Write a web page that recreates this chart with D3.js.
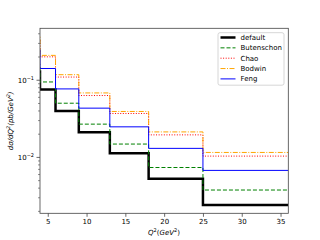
<!DOCTYPE html>
<html>
<head>
<meta charset="utf-8">
<script src="https://cdn.jsdelivr.net/npm/d3@7"></script>
<style>
body { margin: 0; background: #fff; }
svg { font-family: "DejaVu Sans", sans-serif; }
</style>
</head>
<body>
<svg width="320" height="240"></svg>
<script>
// bin edges in Q^2 (first bin lies left of the visible range)
var edges = [2, 4, 6, 9, 13, 18, 25, 36];
var seriesNames = ['default', 'Butenschon', 'Chao', 'Bodwin', 'Feng'];
var defaultVals = [0.13, 0.0758, 0.040, 0.0212, 0.0113, 0.0053, 0.00242];
var butenschonVals = [0.16, 0.095, 0.0504, 0.027, 0.0149, 0.0074, 0.00378];
var chaoVals = [0.33, 0.201, 0.110, 0.0634, 0.0371, 0.0196, 0.0104];
var bodwinVals = [0.366, 0.21, 0.118, 0.0685, 0.0394, 0.0214, 0.0116];
var fengVals = [0.25, 0.142, 0.0772, 0.0435, 0.0249, 0.0131, 0.00679];
var xTicks = [5, 10, 15, 20, 25, 30, 35];

var styles = [
	{ color: '#000000', width: 2.5, dash: null },
	{ color: '#008000', width: 1, dash: '4,2' },
	{ color: '#ff0000', width: 1, dash: '1,1.6' },
	{ color: '#ffa500', width: 1, dash: '5,1.5,1,1.5' },
	{ color: '#0000ff', width: 1, dash: null }
];
var allVals = [defaultVals, butenschonVals, chaoVals, bodwinVals, fengVals];

var pLeft = 40, pRight = 288.3, pTop = 28.3, pBottom = 213.3;
var x = d3.scaleLinear().domain([4, 36]).range([pLeft, pRight]);
var y = d3.scaleLog().domain([Math.pow(10, -2.724), Math.pow(10, -0.327)]).range([pBottom, pTop]);

var svg = d3.select('svg');
svg.append('defs').append('clipPath').attr('id', 'clip')
	.append('rect').attr('x', pLeft).attr('y', pTop)
	.attr('width', pRight - pLeft).attr('height', pBottom - pTop);

var g = svg.append('g').attr('clip-path', 'url(#clip)');

// step lines
allVals.forEach(function (vals, i) {
	var p = 'M' + x(edges[0]) + ',' + y(vals[0]);
	for (var k = 0; k < vals.length; k++) {
		if (k > 0) p += 'V' + y(vals[k]);
		p += 'H' + x(edges[k + 1]);
	}
	g.append('path')
		.attr('d', p)
		.attr('fill', 'none')
		.attr('stroke', styles[i].color)
		.attr('stroke-width', styles[i].width)
		.attr('stroke-dasharray', styles[i].dash);
});

// frame
svg.append('rect')
	.attr('x', pLeft).attr('y', pTop)
	.attr('width', pRight - pLeft).attr('height', pBottom - pTop)
	.attr('fill', 'none').attr('stroke', '#444').attr('stroke-width', 0.8);

// x axis
var xAxis = svg.append('g').attr('transform', 'translate(0,' + pBottom + ')')
	.call(d3.axisBottom(x).tickValues(xTicks).tickSize(3.5).tickPadding(2));
xAxis.select('.domain').remove();
xAxis.selectAll('text').attr('font-size', 7).attr('fill', '#000').attr('font-family', '"DejaVu Sans", sans-serif');
xAxis.selectAll('line').attr('stroke', '#444').attr('stroke-width', 0.8);

// y axis: major + minor ticks
var minor = [];
[-3, -2, -1].forEach(function (e) {
	for (var m = 2; m <= 9; m++) {
		var v = m * Math.pow(10, e);
		if (v >= y.domain()[0] && v <= y.domain()[1]) minor.push(v);
	}
});
var yAxis = svg.append('g').attr('transform', 'translate(' + pLeft + ',0)');
yAxis.selectAll('line.minor').data(minor).enter().append('line')
	.attr('x1', -2).attr('x2', 0)
	.attr('y1', function (d) { return y(d); }).attr('y2', function (d) { return y(d); })
	.attr('stroke', '#444').attr('stroke-width', 0.6);
var majors = [-1, -2];
yAxis.selectAll('line.major').data(majors).enter().append('line')
	.attr('x1', -3.5).attr('x2', 0)
	.attr('y1', function (d) { return y(Math.pow(10, d)); })
	.attr('y2', function (d) { return y(Math.pow(10, d)); })
	.attr('stroke', '#444').attr('stroke-width', 0.8);
var lab = yAxis.selectAll('text.major').data(majors).enter().append('text')
	.attr('x', -6).attr('y', function (d) { return y(Math.pow(10, d)) + 2.5; })
	.attr('text-anchor', 'end').attr('font-size', 7);
lab.append('tspan').text('10');
lab.append('tspan').attr('dy', -3).attr('font-size', 5).text(function (d) { return '\u2212' + (-d); });

// axis labels
var xl = svg.append('text').attr('x', 164).attr('y', 235)
	.attr('text-anchor', 'middle').attr('font-size', 7);
xl.append('tspan').attr('font-style', 'italic').text('Q');
xl.append('tspan').attr('dy', -3).attr('font-size', 5).text('2');
xl.append('tspan').attr('dy', 3).text('(');
xl.append('tspan').attr('font-style', 'italic').text('GeV');
xl.append('tspan').attr('dy', -3).attr('font-size', 5).text('2');
xl.append('tspan').attr('dy', 3).text(')');

var yl = svg.append('text')
	.attr('transform', 'translate(13,' + ((pTop + pBottom) / 2) + ') rotate(-90)')
	.attr('text-anchor', 'middle').attr('font-size', 7).attr('font-style', 'italic');
yl.append('tspan').text('d\u03c3/dQ');
yl.append('tspan').attr('dy', -3).attr('font-size', 5).text('2');
yl.append('tspan').attr('dy', 3).text('(pb/GeV');
yl.append('tspan').attr('dy', -3).attr('font-size', 5).text('2');
yl.append('tspan').attr('dy', 3).text(')');

// legend
var leg = svg.append('g');
leg.append('rect').attr('x', 218).attr('y', 32.7).attr('width', 66).attr('height', 52.5)
	.attr('rx', 2).attr('fill', '#fff').attr('fill-opacity', 0.8)
	.attr('stroke', '#ccc').attr('stroke-width', 0.8);
var items = leg.selectAll('g.item').data(seriesNames).enter().append('g')
	.attr('transform', function (d, i) { return 'translate(0,' + (37.5 + i * 10.35) + ')'; });
items.append('line').attr('x1', 220.5).attr('x2', 235.5).attr('y1', 0).attr('y2', 0)
	.attr('stroke', function (d, i) { return styles[i].color; })
	.attr('stroke-width', function (d, i) { return styles[i].width; })
	.attr('stroke-dasharray', function (d, i) { return styles[i].dash; });
items.append('text').attr('x', 240.5).attr('y', 2.5).attr('font-size', 7).text(function (d) { return d; });
</script>
</body>
</html>
